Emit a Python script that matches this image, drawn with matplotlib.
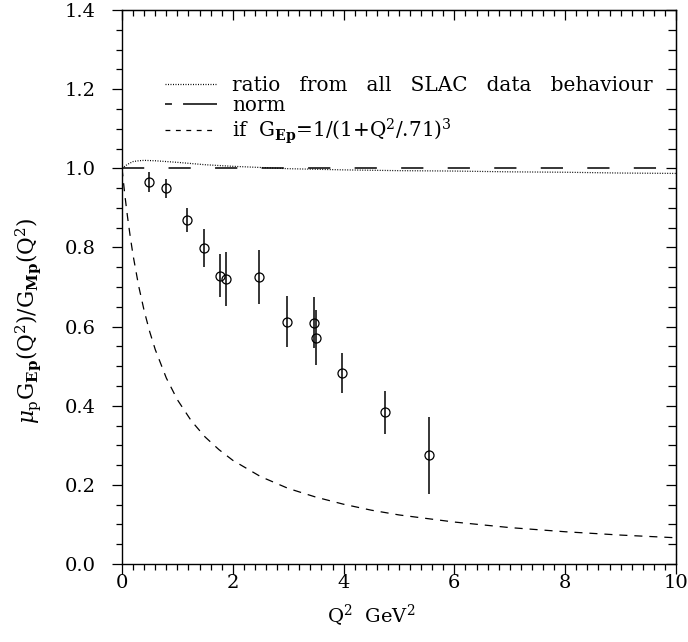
import matplotlib
matplotlib.use("Agg")
import matplotlib.pyplot as plt
from matplotlib.lines import Line2D
from matplotlib.ticker import MultipleLocator, FormatStrFormatter

plt.rcParams['font.family'] = ['DejaVu Serif']
plt.rcParams['mathtext.fontset'] = 'dejavuserif'
plt.rcParams['lines.scale_dashes'] = False

# measured data (Q^2 in GeV^2, mu_p G_Ep / G_Mp, error)
q2 = [0.49, 0.79, 1.18, 1.48, 1.77, 1.88, 2.47, 2.97, 3.47, 3.50, 3.97, 4.75, 5.54]
ratio = [0.965, 0.949, 0.869, 0.799, 0.729, 0.720, 0.726, 0.612, 0.610, 0.572, 0.483, 0.383, 0.275]
err = [0.025, 0.023, 0.030, 0.048, 0.054, 0.068, 0.068, 0.064, 0.065, 0.070, 0.050, 0.054, 0.097]

# SLAC behaviour curve (dotted)
slac_q2 = [0.0, 0.1, 0.2, 0.3, 0.4, 0.6, 0.8, 1.0, 1.5, 2.0, 2.5, 3.0, 4.0, 5.0, 6.0, 7.0, 8.0, 9.0, 10.0]
slac_r = [1.000, 1.010, 1.017, 1.019, 1.020, 1.019, 1.017, 1.015, 1.009, 1.005, 1.002, 0.999, 0.996, 0.994, 0.993, 0.991, 0.990, 0.988, 0.987]

# norm line
norm_q2 = [0.0, 10.0]
norm_r = [1.0, 1.0]

# dipole-cubed curve (dashed)
dip_q2 = [0.0, 0.05, 0.1, 0.15, 0.2, 0.3, 0.4, 0.5, 0.6, 0.8, 1.0, 1.25, 1.5, 1.75, 2.0,
          2.5, 3.0, 3.5, 4.0, 4.5, 5.0, 6.0, 7.0, 8.0, 9.0, 10.0]
dip_r = [1.0, 0.934, 0.877, 0.826, 0.780, 0.703, 0.640, 0.587, 0.542, 0.470, 0.415, 0.362,
         0.321, 0.289, 0.262, 0.221, 0.191, 0.169, 0.151, 0.136, 0.124, 0.106, 0.092,
         0.0815, 0.0731, 0.0663]

xticks = [0, 2, 4, 6, 8, 10]
yticks = [0.0, 0.2, 0.4, 0.6, 0.8, 1.0, 1.2, 1.4]

FS = 14

fig = plt.figure(figsize=(6.88, 6.42), dpi=100)
ax = fig.add_axes([122/688, 1-564/642, 554/688, 554/642])

dot_ls = (0, (0.7, 1.1))
norm_ls = (0, (16, 17.5))
dash_ls = (0, (5.8, 5.0))

ax.plot(slac_q2, slac_r, color='black', lw=0.9, linestyle=dot_ls)
ax.plot(norm_q2, norm_r, color='black', lw=1.1, linestyle=norm_ls)
ax.plot(dip_q2, dip_r, color='black', lw=0.9, linestyle=dash_ls)
ax.errorbar(q2, ratio, yerr=err, fmt='o', mfc='none', mec='black', ms=6.5, mew=0.9,
            ecolor='black', elinewidth=1.1, capsize=0)

ax.set_xlim(0, 10)
ax.set_ylim(0, 1.4)
ax.set_xticks(xticks)
ax.set_yticks(yticks)
ax.xaxis.set_minor_locator(MultipleLocator(0.2))
ax.yaxis.set_minor_locator(MultipleLocator(0.05))
ax.yaxis.set_major_formatter(FormatStrFormatter('%.1f'))
ax.tick_params(axis='x', which='both', direction='out', top=False, labelsize=FS, pad=0.5)
ax.tick_params(axis='y', which='both', direction='out', right=False, labelsize=FS, pad=12)
ax.tick_params(which='major', length=7, width=0.9)
ax.tick_params(which='minor', length=4, width=0.9)

# inward ticks on top and right
secx = ax.secondary_xaxis('top')
secx.set_xticks(xticks)
secx.xaxis.set_minor_locator(MultipleLocator(0.2))
secx.tick_params(which='both', direction='in', labeltop=False)
secx.tick_params(which='major', length=7, width=0.9)
secx.tick_params(which='minor', length=4, width=0.9)
secy = ax.secondary_yaxis('right')
secy.set_yticks(yticks)
secy.yaxis.set_minor_locator(MultipleLocator(0.05))
secy.tick_params(which='both', direction='in', labelright=False)
secy.tick_params(which='major', length=7, width=0.9)
secy.tick_params(which='minor', length=6, width=0.9)
for s in ax.spines.values():
    s.set_linewidth(1.0)

ax.set_xlabel(r'Q$^2$  GeV$^2$', fontsize=FS)
ax.xaxis.set_label_coords(0.45, -0.068)
ax.set_ylabel(r'$\mu_{\rm p}$G$_{\mathbf{Ep}}$(Q$^2$)/G$_{\mathbf{Mp}}$(Q$^2$)', fontsize=15.5)
ax.yaxis.set_label_coords(-0.143, 0.44)

handles = [Line2D([], [], color='black', lw=0.9, linestyle=dot_ls),
           Line2D([], [], color='black', lw=1.1, linestyle=(0, (5, 8, 40, 10))),
           Line2D([], [], color='black', lw=0.9, linestyle=(0, (3.5, 4.0)))]
labels = ['ratio   from   all   SLAC   data   behaviour',
          'norm',
          r'if  G$_{\mathbf{Ep}}$=1/(1+Q$^2$/.71)$^3$']
ax.legend(handles, labels, loc='upper left', bbox_to_anchor=(0.078, 0.881), frameon=False,
          fontsize=14.4, handlelength=2.6, handletextpad=0.75, labelspacing=0.05,
          borderpad=0, borderaxespad=0)

fig.savefig('out.png', dpi=100)
